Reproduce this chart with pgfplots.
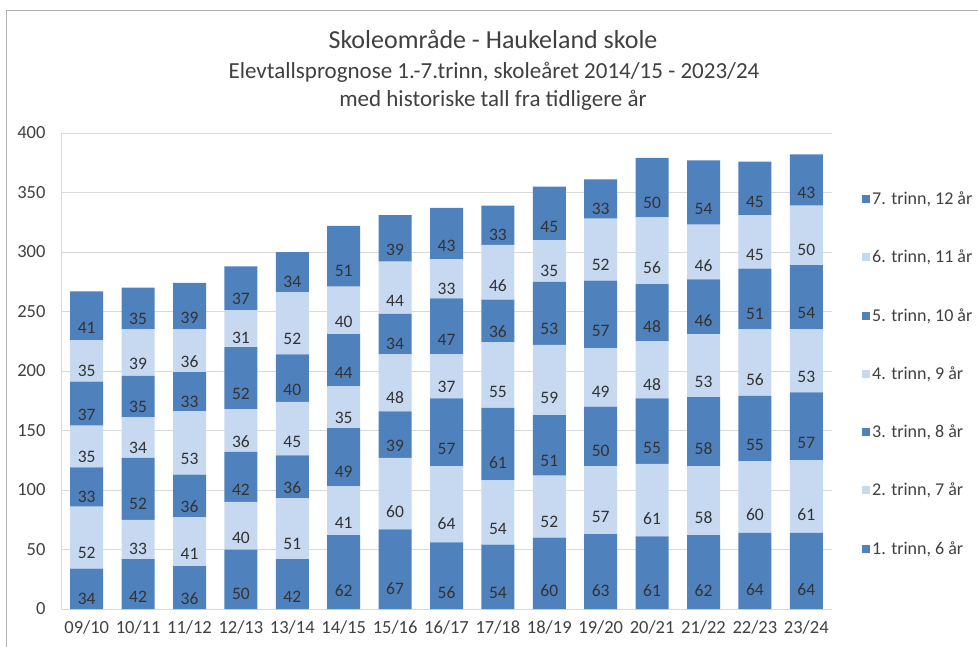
\documentclass[border=0pt]{standalone}
\usepackage{fontspec}
\setmainfont{Carlito}
\usepackage{pgfplots}
\pgfplotsset{compat=1.18}
\pgfkeys{/pgf/number format/assume math mode=true}

\definecolor{darkbar}{HTML}{4F81BD}
\definecolor{lightbar}{HTML}{C6D9F1}
\definecolor{gridc}{HTML}{D9D9D9}
\definecolor{txt}{HTML}{404040}

\pgfplotsset{
  seg/.style={
    fill=#1, draw=none,
    visualization depends on={rawy \as \rawy},
    nodes near coords={\pgfmathprintnumber{\rawy}},
    every node near coord/.append style={
      anchor=center, font=\fontsize{17.5}{17.5}\selectfont, text=black!80,
      yshift={-0.2975pt*\rawy}},
  },
}

\begin{document}
\begin{tikzpicture}[x=1pt,y=1pt]
\useasboundingbox (0,0) rectangle (978,646);
\draw[gray!60, line width=1pt] (6,-2) -- (6,635) -- (980,635);

\node[anchor=base, text=txt, font=\fontsize{26}{26}\selectfont] at (493,597) {Skoleområde - Haukeland skole};
\node[anchor=base, text=txt, font=\fontsize{23}{23}\selectfont] at (494,567) {Elevtallsprognose 1.-7.trinn, skoleåret 2014/15 - 2023/24};
\node[anchor=base, text=txt, font=\fontsize{23}{23}\selectfont] at (493,539) {med historiske tall fra tidligere år};

\begin{axis}[
  at={(61pt,37pt)}, anchor=south west,
  scale only axis, width=771pt, height=476pt,
  ybar stacked, bar width=33pt,
  xmin=-0.5, xmax=14.5, ymin=0, ymax=400,
  xtick={0,...,14},
  xticklabels={09/10,10/11,11/12,12/13,13/14,14/15,15/16,16/17,17/18,18/19,19/20,20/21,21/22,22/23,23/24},
  ytick={0,50,...,400},
  axis x line*=bottom, axis y line*=left,
  axis line style={gridc, line width=0.8pt},
  major tick length=0pt,
  ymajorgrids, grid style={gridc, line width=0.8pt},
  tick label style={text=txt, font=\fontsize{18.5}{18.5}\selectfont},
  yticklabel style={xshift=-12pt},
  xticklabel style={yshift=-8pt},
  legend style={draw=none, fill=none, at={(1.035,0.885)}, anchor=north west,
    font=\fontsize{18}{18}\selectfont, text=txt, row sep=40pt,
    /tikz/every even column/.append style={column sep=2pt}},
  legend cell align=left,
  reverse legend,
  legend image code/.code={\fill[#1, draw=none] (0pt,-4pt) rectangle (8pt,4pt);},
]
% 1. trinn
\addplot[seg=darkbar] coordinates {(0,34) (1,42) (2,36) (3,50) (4,42) (5,62) (6,67) (7,56) (8,54) (9,60) (10,63) (11,61) (12,62) (13,64) (14,64)};
\addlegendentry{1. trinn, 6 år}
% 2. trinn
\addplot[seg=lightbar] coordinates {(0,52) (1,33) (2,41) (3,40) (4,51) (5,41) (6,60) (7,64) (8,54) (9,52) (10,57) (11,61) (12,58) (13,60) (14,61)};
\addlegendentry{2. trinn, 7 år}
% 3. trinn
\addplot[seg=darkbar] coordinates {(0,33) (1,52) (2,36) (3,42) (4,36) (5,49) (6,39) (7,57) (8,61) (9,51) (10,50) (11,55) (12,58) (13,55) (14,57)};
\addlegendentry{3. trinn, 8 år}
% 4. trinn
\addplot[seg=lightbar] coordinates {(0,35) (1,34) (2,53) (3,36) (4,45) (5,35) (6,48) (7,37) (8,55) (9,59) (10,49) (11,48) (12,53) (13,56) (14,53)};
\addlegendentry{4. trinn, 9 år}
% 5. trinn
\addplot[seg=darkbar] coordinates {(0,37) (1,35) (2,33) (3,52) (4,40) (5,44) (6,34) (7,47) (8,36) (9,53) (10,57) (11,48) (12,46) (13,51) (14,54)};
\addlegendentry{5. trinn, 10 år}
% 6. trinn
\addplot[seg=lightbar] coordinates {(0,35) (1,39) (2,36) (3,31) (4,52) (5,40) (6,44) (7,33) (8,46) (9,35) (10,52) (11,56) (12,46) (13,45) (14,50)};
\addlegendentry{6. trinn, 11 år}
% 7. trinn
\addplot[seg=darkbar] coordinates {(0,41) (1,35) (2,39) (3,37) (4,34) (5,51) (6,39) (7,43) (8,33) (9,45) (10,33) (11,50) (12,54) (13,45) (14,43)};
\addlegendentry{7. trinn, 12 år}
% totals
\addplot[draw=none, fill=none, forget plot, point meta=explicit symbolic,
  nodes near coords,
  every node near coord/.append style={anchor=south, yshift=1pt, text=txt,
    font=\fontsize{17.5}{17.5}\selectfont}]
  coordinates {(0,0) [267] (1,0) [270] (2,0) [274] (3,0) [288] (4,0) [300] (5,0) [322] (6,0) [331] (7,0) [337] (8,0) [339] (9,0) [355] (10,0) [361] (11,0) [379] (12,0) [377] (13,0) [376] (14,0) [382]};
\end{axis}
\end{tikzpicture}
\end{document}
